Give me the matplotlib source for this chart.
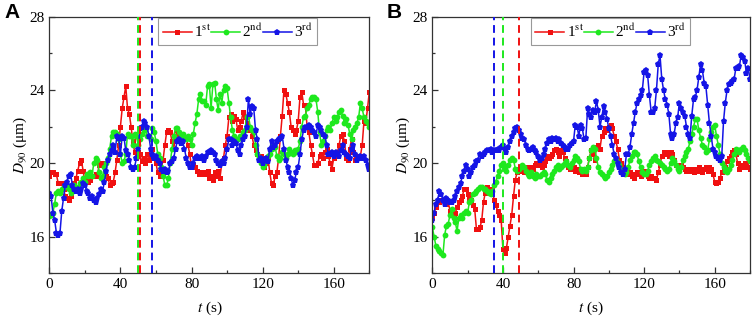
import matplotlib
matplotlib.use("Agg")
import matplotlib.pyplot as plt
import numpy as np
from matplotlib.ticker import MultipleLocator

plt.rcParams["font.family"] = ["Liberation Serif", "DejaVu Serif"]
plt.rcParams["mathtext.fontset"] = "stix"

# time axis (s), one sample per second
t = np.arange(0, 181)

# --- panel A: D90 (um) of three runs ---
a_1st = [19.3, 19.5, 19.5, 19.4, 19.4, 18.9, 18.9, 18.9, 18.6, 18.2,
         18.1, 18.0, 18.2, 18.6, 18.9, 19.2, 19.6, 20.0, 20.2, 19.6,
         19.0, 19.2, 19.0, 19.1, 19.3, 19.3, 19.4, 19.3, 19.9, 20.0,
         20.0, 19.9, 19.3, 19.2, 18.8, 18.9, 19.0, 19.5, 20.2, 21.0,
         22.0, 23.0, 23.6, 24.2, 23.0, 22.7, 22.0, 21.2, 20.6, 20.3,
         20.6, 20.5, 20.1, 20.3, 20.0, 20.5, 20.2, 20.4, 20.8, 20.3,
         20.0, 19.5, 19.3, 19.7, 20.2, 21.0, 21.7, 21.8, 21.7, 21.2,
         20.8, 21.5, 21.8, 21.5, 21.2, 21.3, 21.3, 21.4, 21.0, 20.5,
         19.8, 19.9, 19.8, 19.6, 19.4, 19.5, 19.4, 19.5, 19.4, 19.6,
         19.2, 19.3, 19.1, 19.5, 19.3, 19.6, 19.2, 20.0, 20.3, 21.0,
         21.5, 22.5, 22.7, 22.3, 22.6, 22.4, 21.8, 22.0, 22.3, 22.8,
         22.5, 22.2, 21.8, 21.9, 21.5, 21.0, 20.7, 20.5, 20.2, 20.4,
         20.3, 19.8, 20.0, 20.3, 19.5, 18.9, 18.8, 19.3, 19.5, 20.3,
         21.5, 22.6, 24.0, 23.8, 23.3, 22.8, 22.0, 21.8, 21.6, 21.8,
         22.3, 23.6, 23.9, 23.2, 23.2, 22.0, 21.7, 21.0, 20.5, 19.9,
         19.9, 20.0, 20.4, 20.5, 20.3, 20.6, 20.8, 20.4, 20.0, 19.7,
         20.3, 20.4, 20.6, 21.0, 21.5, 21.6, 21.2, 20.3, 20.2, 20.8,
         21.3, 20.6, 20.2, 20.3, 20.4, 20.4, 21.0, 22.3, 22.2, 23.0,
         23.9]
a_2nd = [17.1, 17.2, 17.3, 17.8, 18.4, 18.5, 18.4, 18.6, 18.7, 18.8,
         18.8, 18.6, 18.4, 18.7, 18.8, 18.6, 18.7, 18.9, 19.0, 19.2,
         19.0, 19.4, 19.3, 19.5, 19.3, 20.0, 20.3, 20.2, 19.5, 19.2,
         19.3, 19.8, 20.0, 20.3, 20.8, 21.5, 21.7, 21.7, 21.6, 21.3,
         20.5, 20.0, 20.1, 20.5, 21.6, 21.5, 21.5, 21.0, 21.6, 21.5,
         21.0, 21.3, 21.6, 21.9, 21.8, 21.5, 21.5, 21.3, 21.9, 21.7,
         21.2, 20.5, 20.3, 19.8, 19.3, 18.8, 18.8, 19.2, 20.0, 20.8,
         21.5, 21.9, 21.9, 21.7, 21.5, 21.6, 21.4, 21.3, 21.5, 21.3,
         21.0, 21.6, 22.2, 22.7, 23.5, 23.8, 23.4, 23.4, 23.2, 24.2,
         24.3, 23.0, 24.3, 24.4, 23.5, 22.9, 23.8, 23.3, 24.0, 24.2,
         24.1, 23.3, 22.5, 21.8, 21.5, 21.3, 21.3, 21.5, 21.4, 21.7,
         21.8, 22.5, 22.6, 22.0, 21.8, 21.7, 21.0, 20.5, 20.3, 20.0,
         19.8, 19.9, 20.1, 20.4, 20.5, 20.8, 21.0, 20.9, 20.4, 20.2,
         20.3, 20.6, 20.5, 20.3, 20.5, 20.8, 20.6, 20.5, 20.7, 20.6,
         20.8, 21.2, 22.0, 22.5, 22.6, 23.0, 23.2, 23.5, 23.6, 23.6,
         23.5, 22.8, 21.7, 21.0, 21.2, 21.5, 21.8, 22.0, 21.8, 22.2,
         22.5, 22.3, 22.5, 22.8, 22.9, 22.6, 22.2, 22.4, 22.1, 21.6,
         21.3, 21.8, 22.0, 22.2, 22.5, 23.3, 23.0, 22.5, 22.3, 22.2,
         22.0]
a_3rd = [18.4, 18.2, 17.3, 16.9, 16.2, 16.1, 16.2, 17.4, 18.1, 18.8,
         19.0, 19.3, 19.4, 18.8, 18.6, 18.5, 18.6, 18.4, 18.6, 18.9,
         18.8, 18.5, 18.4, 18.1, 18.2, 18.0, 17.9, 18.1, 18.3, 18.6,
         18.5, 19.0, 19.6, 20.2, 20.5, 20.7, 21.0, 20.6, 21.5, 21.4,
         20.5, 21.5, 21.4, 20.7, 20.5, 20.2, 19.8, 19.7, 19.8, 20.3,
         20.8, 21.9, 22.0, 22.3, 22.2, 22.0, 21.5, 20.8, 20.5, 20.3,
         20.4, 20.2, 20.0, 19.7, 19.6, 19.7, 19.5, 19.6, 20.0, 20.1,
         20.3, 20.8, 21.2, 21.3, 21.1, 21.2, 20.8, 20.3, 20.0, 19.8,
         19.8, 20.0, 20.3, 20.4, 20.3, 20.3, 20.4, 20.2, 20.4, 20.6,
         20.6, 20.7, 20.6, 20.5, 20.2, 20.0, 19.9, 20.1, 20.0, 20.3,
         20.8, 21.3, 21.3, 21.0, 21.2, 21.1, 20.7, 20.5, 21.0, 21.3,
         21.5, 22.0, 23.5, 22.7, 23.1, 23.0, 21.8, 21.3, 20.2, 20.3,
         20.0, 20.2, 20.3, 20.1, 20.8, 21.2, 20.9, 21.0, 21.2, 21.3,
         21.4, 21.5, 20.8, 20.2, 19.8, 19.5, 19.2, 18.8, 19.1, 19.5,
         19.8, 20.5, 21.3, 21.8, 22.0, 22.0, 22.1, 22.0, 21.8, 21.7,
         21.5, 22.1, 22.0, 21.8, 21.6, 21.5, 21.0, 20.5, 20.5, 20.6,
         20.4, 20.6, 20.5, 20.4, 20.7, 21.0, 20.6, 20.5, 20.4, 20.3,
         20.8, 21.0, 20.5, 20.2, 20.3, 20.4, 20.3, 20.4, 20.2, 19.9,
         19.7]

# --- panel B ---
b_1st = [17.0, 17.3, 17.6, 17.9, 17.9, 18.0, 18.0, 17.9, 17.8, 17.9,
         17.4, 17.3, 17.2, 17.3, 17.6, 17.9, 18.0, 18.2, 18.6, 18.6,
         18.3, 18.1, 18.0, 17.7, 17.5, 16.4, 16.4, 16.5, 16.9, 17.9,
         18.4, 18.7, 18.5, 18.6, 18.6, 18.0, 17.7, 17.4, 17.2, 16.9,
         15.3, 15.1, 15.4, 16.0, 16.6, 17.2, 18.2, 19.1, 19.5, 19.7,
         19.6, 19.6, 19.5, 19.7, 19.8, 19.6, 19.8, 19.7, 19.9, 20.0,
         19.9, 20.0, 19.8, 19.9, 20.1, 20.4, 20.3, 20.4, 20.5, 20.7,
         20.8, 20.6, 20.4, 20.7, 20.6, 20.3, 20.1, 19.8, 19.7, 19.8,
         19.8, 19.6, 19.7, 19.5, 19.6, 19.4, 19.5, 19.4, 19.8, 20.3,
         20.7, 20.5, 20.2, 20.9, 21.0, 20.8, 21.5, 21.7, 21.9, 21.8,
         22.0, 22.1, 21.9, 21.5, 21.2, 20.8, 20.2, 20.0, 19.8, 19.6,
         19.4, 19.4, 19.5, 19.3, 19.2, 19.4, 19.5, 19.4, 19.3, 19.5,
         19.6, 19.4, 19.3, 19.2, 19.3, 19.2, 19.2, 19.1, 19.5, 19.9,
         20.4, 20.6, 20.5, 20.6, 20.4, 20.6, 20.5, 20.2, 19.9, 19.8,
         19.7, 19.9, 19.8, 19.7, 19.6, 19.7, 19.6, 19.7, 19.5, 19.7,
         19.6, 19.8, 19.7, 19.5, 19.7, 19.8, 19.6, 19.8, 19.7, 19.4,
         19.0, 18.9, 19.0, 19.2, 19.5, 19.6, 19.8, 20.1, 20.3, 20.4,
         20.6, 20.7, 20.5, 20.0, 19.7, 19.9, 19.8, 20.0, 20.0, 19.8,
         19.7]
b_2nd = [16.5, 16.0, 15.5, 15.3, 15.2, 15.1, 15.0, 16.1, 16.6, 16.7,
         17.2, 17.5, 17.0, 16.8, 16.3, 17.0, 17.2, 17.0, 17.3, 17.4,
         17.3, 17.9, 18.0, 18.3, 18.4, 18.5, 18.6, 18.7, 18.7, 18.6,
         18.6, 18.5, 18.4, 18.3, 18.5, 18.8, 19.0, 19.3, 19.6, 19.9,
         20.0, 19.8, 19.6, 19.9, 20.2, 20.3, 20.2, 19.7, 19.6, 19.7,
         19.8, 19.9, 19.8, 19.6, 19.4, 19.3, 19.5, 19.3, 19.2, 19.4,
         19.3, 19.3, 19.4, 19.5, 19.4, 19.1, 19.0, 19.2, 19.4, 19.6,
         19.8, 19.9, 19.7, 19.8, 19.9, 20.0, 20.1, 19.9, 19.8, 20.0,
         20.2, 20.4, 20.3, 20.1, 19.7, 19.6, 19.7, 19.6, 19.8, 20.3,
         20.7, 20.9, 20.8, 20.3, 19.8, 19.5, 19.4, 19.3, 19.2, 19.3,
         19.5, 19.7, 19.9, 20.1, 20.2, 20.0, 19.9, 19.7, 19.5, 19.4,
         19.5, 19.8, 20.2, 20.4, 20.6, 20.6, 20.5, 20.1, 19.8, 19.5,
         19.4, 19.4, 19.6, 19.9, 20.1, 20.3, 20.4, 20.2, 20.1, 20.0,
         19.9, 19.8, 19.7, 19.6, 19.7, 20.0, 20.3, 20.1, 19.9, 19.7,
         19.6, 19.8, 20.2, 20.4, 20.6, 20.8, 21.2, 21.6, 22.0, 22.4,
         22.4, 21.8, 21.4, 21.0, 20.9, 20.6, 20.7, 21.3, 21.7, 22.0,
         22.1, 21.5, 21.0, 20.5, 20.0, 19.8, 19.6, 19.5, 19.7, 19.9,
         20.2, 20.5, 20.8, 20.7, 20.6, 20.8, 20.9, 20.7, 20.5, 20.3,
         20.1]
b_3rd = [16.9, 17.3, 17.8, 18.0, 18.5, 18.3, 18.0, 17.8, 18.1, 18.0,
         17.9, 17.9, 18.0, 18.2, 18.5, 18.7, 18.9, 19.3, 19.6, 19.9,
         19.7, 19.3, 19.5, 19.8, 19.9, 20.1, 20.2, 20.5, 20.4, 20.5,
         20.6, 20.7, 20.7, 20.8, 20.6, 20.7, 20.7, 20.8, 20.7, 20.9,
         21.0, 20.8, 20.6, 20.9, 21.2, 21.5, 21.7, 21.9, 22.0, 21.8,
         21.6, 21.4, 21.3, 21.0, 20.8, 20.7, 20.8, 20.9, 20.7, 20.6,
         20.4, 20.2, 20.3, 20.5, 20.8, 21.1, 21.3, 21.2, 21.4, 21.3,
         21.4, 21.2, 21.3, 21.1, 21.0, 20.9, 20.8, 20.8, 21.0, 21.1,
         21.2, 22.1, 22.0, 21.5, 22.1, 21.9, 21.3, 21.4, 23.0, 22.7,
         22.5, 22.9, 22.8, 23.4, 22.9, 22.0, 22.5, 23.1, 22.8, 22.4,
         21.9, 21.5, 21.0, 20.5, 20.3, 20.0, 19.8, 19.5, 19.4, 19.7,
         20.5, 20.5, 20.9, 21.6, 22.2, 22.8, 23.3, 23.5, 23.7, 24.0,
         25.0, 25.1, 24.8, 23.7, 22.8, 22.8, 23.0, 24.0, 25.4, 25.9,
         24.6, 24.0, 23.5, 23.2, 22.7, 21.6, 21.4, 21.6, 22.2, 22.5,
         23.3, 23.0, 22.8, 22.6, 22.0, 21.6, 21.4, 22.6, 23.5, 23.6,
         24.0, 24.7, 25.4, 25.1, 24.4, 24.2, 23.2, 22.2, 21.5, 20.8,
         20.6, 20.4, 20.3, 20.2, 20.4, 22.3, 23.3, 24.0, 24.3, 24.4,
         24.5, 24.6, 25.2, 25.2, 25.3, 25.9, 25.8, 25.6, 24.9, 25.2,
         24.6]

# dashed markers (s) where each run changes
a_vlines = {"2nd": 50, "1st": 51, "3rd": 58}
b_vlines = {"3rd": 35, "2nd": 40, "1st": 49}

labels = {"1st": "1$^{\\rm st}$", "2nd": "2$^{\\rm nd}$", "3rd": "3$^{\\rm rd}$"}
colors = {"1st": "#f01010", "2nd": "#1ee81e", "3rd": "#1414e6"}
markers = {"1st": ("s", 3.6), "2nd": ("o", 4.2), "3rd": ("p", 4.8)}


def draw_panel(ax, series, vlines, leg_x, tag):
    for key, vals in series.items():
        m, ms = markers[key]
        ax.plot(t, vals, color=colors[key], lw=1.1, marker=m, ms=ms,
                mew=0, label=labels[key])
    for key, x in vlines.items():
        ax.axvline(x, color=colors[key], lw=1.4, ls=(0, (4, 2.5)), zorder=5)
    ax.set_xlim(0, 180)
    ax.set_ylim(14, 28)
    ax.xaxis.set_major_locator(MultipleLocator(40))
    ax.xaxis.set_minor_locator(MultipleLocator(20))
    ax.yaxis.set_major_locator(MultipleLocator(4))
    ax.yaxis.set_minor_locator(MultipleLocator(2))
    ax.tick_params(which="both", direction="in", top=False, right=False,
                   labelsize=11, color="#333333", width=0.9)
    ax.tick_params(which="major", length=4)
    ax.tick_params(which="minor", length=2.5)
    for sp in ax.spines.values():
        sp.set_color("#333333")
        sp.set_linewidth(0.9)
    ax.set_xlabel("$t$ (s)", fontsize=11, labelpad=6)
    ax.set_ylabel("$D_{90}$ (μm)", fontsize=11, labelpad=0.5)
    leg = ax.legend(loc="upper left", bbox_to_anchor=(leg_x, 0.993), ncol=3,
                    handlelength=1.9, handletextpad=0.15, columnspacing=0.0,
                    borderpad=0.3, borderaxespad=0, fontsize=11,
                    fancybox=False, edgecolor="#999999", framealpha=1)
    leg.get_frame().set_linewidth(0.8)
    pos = ax.get_position()
    ax.figure.text(pos.x0 - 0.060, 0.99, tag, fontsize=15, fontweight="bold",
                   family="Liberation Sans", va="top", ha="left")


fig = plt.figure(figsize=(7.54, 3.2), dpi=100)
ax_a = fig.add_axes([0.0654, 0.146, 0.4244, 0.802])
ax_b = fig.add_axes([0.5734, 0.146, 0.4213, 0.802])

draw_panel(ax_a, {"1st": a_1st, "2nd": a_2nd, "3rd": a_3rd}, a_vlines, 0.34, "A")
draw_panel(ax_b, {"1st": b_1st, "2nd": b_2nd, "3rd": b_3rd}, b_vlines, 0.31, "B")

fig.savefig("out.png", dpi=100)
